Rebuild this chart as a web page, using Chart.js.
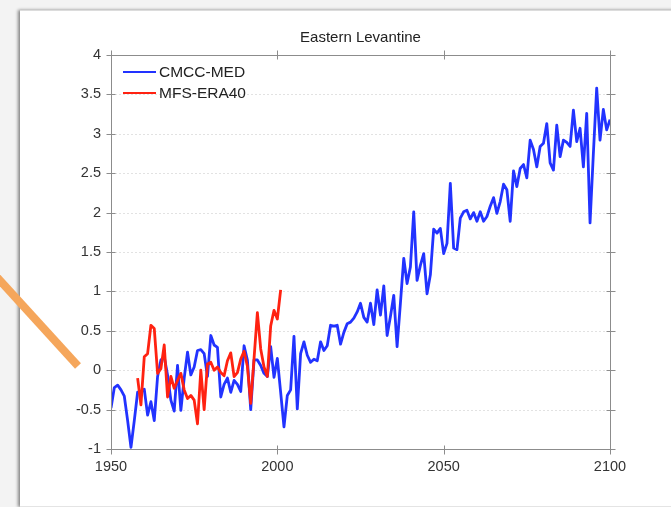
<!DOCTYPE html>
<html>
<head>
<meta charset="utf-8">
<script src="https://cdn.jsdelivr.net/npm/chart.js@4.4.0/dist/chart.umd.min.js"></script>
<style>
  html, body { margin: 0; padding: 0; }
  body { width: 671px; height: 507px; background: #f3f3f3; position: relative; overflow: hidden; }
  #slide { position: absolute; left: 20px; top: 10px; width: 700px; height: 495px; background: #fff;
           border-top: 1px solid #dcdcdc; border-bottom: 1px solid #e4e4e4; box-shadow: -2px 0 3px rgba(0,0,0,0.45); }
  #wrap { position: absolute; left: 0; top: 0; width: 671px; height: 507px; }
  #arrow { position: absolute; left: 0; top: 0; }
</style>
</head>
<body>
<div id="slide"></div>
<div id="wrap"><canvas id="chart" width="671" height="507"></canvas></div>
<svg id="arrow" width="671" height="507"><line x1="-5" y1="275" x2="78" y2="366" stroke="#f5a65b" stroke-width="8"/></svg>
<script>
/* Eastern Levantine — annual series, CMCC-MED vs MFS-ERA40 */

const chartTitle = 'Eastern Levantine';
const seriesNames = ['CMCC-MED', 'MFS-ERA40'];
const seriesColors = ['#2233ff', '#ff2211'];

const cmccFirstYear = 1950;
const cmccMed = [
  -0.48, -0.22, -0.19, -0.25, -0.33, -0.64, -0.98, -0.64, -0.28, -0.28,
  -0.24, -0.57, -0.40, -0.64, -0.08, 0.13, 0.17, -0.06, -0.38, -0.52,
  0.06, -0.51, -0.10, 0.23, -0.06, 0.04, 0.25, 0.26, 0.21, -0.08,
  0.44, 0.32, 0.29, -0.34, -0.18, -0.10, -0.28, -0.13, -0.18, -0.27,
  0.31, 0.13, -0.50, 0.13, 0.13, 0.06, -0.04, -0.08, 0.30, -0.09,
  0.15, -0.28, -0.72, -0.32, -0.25, 0.43, -0.49, 0.21, 0.36, 0.19,
  0.10, 0.14, 0.12, 0.36, 0.25, 0.31, 0.57, 0.56, 0.57, 0.33,
  0.48, 0.59, 0.61, 0.66, 0.74, 0.85, 0.67, 0.61, 0.85, 0.58,
  1.02, 0.70, 1.07, 0.44, 0.68, 0.95, 0.30, 0.85, 1.42, 1.10,
  1.31, 2.01, 1.14, 1.33, 1.48, 0.97, 1.21, 1.79, 1.74, 1.80,
  1.48, 1.61, 2.37, 1.55, 1.53, 1.93, 2.01, 2.03, 1.92, 2.00,
  1.89, 2.01, 1.89, 1.95, 2.08, 2.19, 1.99, 2.14, 2.36, 2.29,
  1.89, 2.53, 2.33, 2.56, 2.61, 2.44, 2.92, 2.80, 2.58, 2.84,
  2.88, 3.13, 2.63, 2.54, 3.11, 2.71, 2.92, 2.89, 2.84, 3.30,
  2.90, 3.07, 2.58, 3.26, 1.87, 2.75, 3.58, 2.92, 3.31, 3.05,
  3.18
];

const mfsFirstYear = 1958;
const mfsEra40 = [
  -0.10, -0.44, 0.17, 0.21, 0.57, 0.53, -0.04, 0.02, 0.32, -0.34,
  -0.08, -0.23, -0.13, -0.04, -0.25, -0.36, -0.32, -0.38, -0.68, 0.00,
  -0.50, 0.08, 0.10, 0.00, 0.04, -0.03, -0.07, 0.12, 0.22, -0.08,
  -0.03, 0.14, 0.24, 0.05, -0.42, 0.15, 0.73, 0.27, 0.04, -0.08,
  0.56, 0.76, 0.65, 1.02
];

const xTicks = [1950, 2000, 2050, 2100];
const yTicks = [-1, -0.5, 0, 0.5, 1, 1.5, 2, 2.5, 3, 3.5, 4];

const FONT = '"Liberation Sans", Arial, Helvetica, sans-serif';

function toPoints(start, values) {
  return values.map((v, i) => ({ x: start + i, y: v }));
}

// dotted grid, box frame and in/out tick marks
const framePlugin = {
  id: 'frame',
  beforeDatasetsDraw(chart) {
    const { ctx, chartArea: a, scales: { y } } = chart;
    ctx.save();
    ctx.strokeStyle = '#e2e2e2';
    ctx.lineWidth = 1;
    ctx.setLineDash([2, 2]);
    yTicks.forEach(v => {
      const py = Math.round(y.getPixelForValue(v)) + 0.5;
      ctx.beginPath(); ctx.moveTo(a.left, py); ctx.lineTo(a.right, py); ctx.stroke();
    });
    ctx.restore();
  },
  afterDatasetsDraw(chart) {
    const { ctx, chartArea: a, scales: { x, y } } = chart;
    const L = Math.round(a.left) + 0.5, R = Math.round(a.right) + 0.5;
    const T = Math.round(a.top) + 0.5, B = Math.round(a.bottom) + 0.5;
    ctx.save();
    ctx.strokeStyle = '#8c8c8c';
    ctx.lineWidth = 1;
    ctx.strokeRect(L, T, R - L, B - T);
    ctx.beginPath();
    yTicks.forEach(v => {
      const py = Math.round(y.getPixelForValue(v)) + 0.5;
      ctx.moveTo(L - 5, py); ctx.lineTo(L + 4, py);
      ctx.moveTo(R - 4, py); ctx.lineTo(R + 5, py);
    });
    xTicks.forEach(v => {
      const px = Math.round(x.getPixelForValue(v)) + 0.5;
      ctx.moveTo(px, B - 4); ctx.lineTo(px, B + 5);
      ctx.moveTo(px, T - 5); ctx.lineTo(px, T + 4);
    });
    ctx.stroke();
    ctx.restore();
  }
};

// legend drawn inside the plot, top-left
const insideLegend = {
  id: 'insideLegend',
  afterDraw(chart) {
    const { ctx, chartArea: a } = chart;
    ctx.save();
    ctx.font = '15.5px ' + FONT;
    ctx.textBaseline = 'middle';
    chart.data.datasets.forEach((ds, i) => {
      const yy = a.top + 17 + i * 21;
      ctx.strokeStyle = ds.borderColor;
      ctx.lineWidth = 2.2;
      ctx.beginPath(); ctx.moveTo(a.left + 12, yy); ctx.lineTo(a.left + 45, yy); ctx.stroke();
      ctx.fillStyle = '#222';
      ctx.fillText(ds.label, a.left + 48, yy + 1);
    });
    ctx.restore();
  }
};

new Chart(document.getElementById('chart'), {
  type: 'line',
  data: {
    datasets: [
      {
        label: seriesNames[0],
        data: toPoints(cmccFirstYear, cmccMed),
        borderColor: seriesColors[0],
        borderWidth: 2.8,
        pointRadius: 0,
        borderJoinStyle: 'round',
        order: 2
      },
      {
        label: seriesNames[1],
        data: toPoints(mfsFirstYear, mfsEra40),
        borderColor: seriesColors[1],
        borderWidth: 2.8,
        pointRadius: 0,
        borderJoinStyle: 'round',
        order: 1
      }
    ]
  },
  options: {
    responsive: false,
    animation: false,
    layout: { padding: { left: 0, right: 61, top: 0, bottom: 0 } },
    plugins: {
      legend: { display: false },
      tooltip: { enabled: false },
      title: {
        display: true,
        text: chartTitle,
        fullSize: false,
        color: '#222',
        font: { family: FONT, size: 15, weight: 'normal' },
        padding: { top: 29, bottom: 8 }
      }
    },
    scales: {
      x: {
        type: 'linear',
        min: 1950,
        max: 2100,
        afterBuildTicks: s => { s.ticks = xTicks.map(v => ({ value: v })); },
        afterFit: s => { s.height = 58; },
        grid: { display: false, drawTicks: false },
        border: { display: false },
        ticks: {
          callback: v => String(v),
          color: '#333',
          font: { family: FONT, size: 14.5 },
          padding: 9,
          maxRotation: 0,
          autoSkip: false
        }
      },
      y: {
        min: -1,
        max: 4,
        afterBuildTicks: s => { s.ticks = yTicks.map(v => ({ value: v })); },
        afterFit: s => { s.width = 111; },
        grid: { display: false, drawTicks: false },
        border: { display: false },
        ticks: {
          callback: v => String(v),
          color: '#333',
          font: { family: FONT, size: 14.5 },
          padding: 10,
          autoSkip: false
        }
      }
    }
  },
  plugins: [framePlugin, insideLegend]
});
</script>
</body>
</html>
